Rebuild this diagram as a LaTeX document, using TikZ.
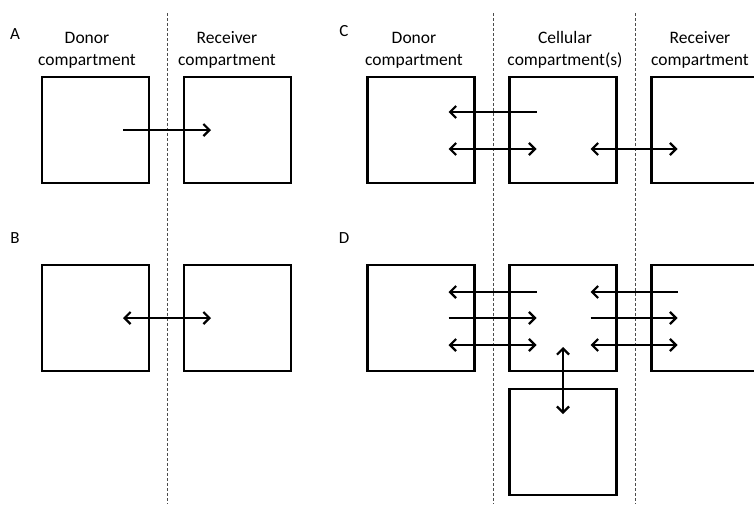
\documentclass[tikz,border=0pt]{standalone}
\usepackage{fontspec}
\setmainfont{Carlito}
\usetikzlibrary{arrows.meta, positioning}

\tikzset{
  box/.style={draw, line width=2.3pt, minimum width=107pt, minimum height=106pt, inner sep=0pt, outer sep=0pt},
  lbl/.style={align=center, font=\fontsize{17.5}{22}\selectfont, inner sep=0pt},
  tag/.style={font=\fontsize{17}{20}\selectfont, inner sep=0pt},
  flow/.style={line width=2.2pt, ->},
  both/.style={line width=2.2pt, <->},
  divider/.style={gray!60!black, line width=0.8pt, dash pattern=on 3pt off 2pt},
}

\begin{document}
\begin{tikzpicture}[x=1pt, y=-1pt, node distance=35pt, >={Straight Barb[length=6pt,width=12pt]}]
  \clip (0,0) rectangle (754,504);
  % dividers
  \draw[divider] (167,13) -- (167,504);
  \draw[divider] (493,13) -- (493,504);
  \draw[divider] (635,13) -- (635,504);

  % panel letters
  \node[tag] (tagA) at (15,34) {A};
  \node[tag] (tagB) at (15,238) {B};
  \node[tag] (tagC) at (344,31) {C};
  \node[tag] (tagD) at (344,238) {D};

  % headings
  \node[lbl] (hdonA) at (87,50) {Donor\\compartment};
  \node[lbl] (hrecA) at (227,50) {Receiver\\compartment};
  \node[lbl] (hdonC) at (414,50) {Donor\\compartment};
  \node[lbl] (hcelC) at (565,50) {Cellular\\compartment(s)};
  \node[lbl] (hrecC) at (700,50) {Receiver\\compartment};

  % A
  \node[box] (donA) at (95.5,130) {};
  \node[box, right=of donA] (recA) {};
  \draw[flow] ([xshift=-26pt]donA.east) -- ([xshift=27pt]recA.west);

  % B
  \node[box] (donB) at (95.5,318) {};
  \node[box, right=of donB] (recB) {};
  \draw[both] ([xshift=-26pt]donB.east) -- ([xshift=27pt]recB.west);

  % C
  \node[box] (donC) at (421,130) {};
  \node[box, right=of donC] (celC) {};
  \node[box, right=of celC] (recC) {};
  \draw[flow] ([xshift=27pt, yshift=18pt]celC.west) -- ([xshift=-26pt, yshift=18pt]donC.east);
  \draw[both] ([xshift=-26pt, yshift=-19pt]donC.east) -- ([xshift=27pt, yshift=-19pt]celC.west);
  \draw[both] ([xshift=-26pt, yshift=-19pt]celC.east) -- ([xshift=26pt, yshift=-19pt]recC.west);

  % D
  \node[box] (donD) at (421,318) {};
  \node[box, right=of donD] (celD) {};
  \node[box, right=of celD] (recD) {};
  \node[box, below=18pt of celD] (subD) {};
  \draw[flow] ([xshift=27pt, yshift=26pt]celD.west) -- ([xshift=-26pt, yshift=26pt]donD.east);
  \draw[flow] ([xshift=-26pt]donD.east) -- ([xshift=27pt]celD.west);
  \draw[both] ([xshift=-26pt, yshift=-27pt]donD.east) -- ([xshift=27pt, yshift=-27pt]celD.west);
  \draw[flow] ([xshift=26pt, yshift=26pt]recD.west) -- ([xshift=-26pt, yshift=26pt]celD.east);
  \draw[flow] ([xshift=-26pt]celD.east) -- ([xshift=26pt]recD.west);
  \draw[both] ([xshift=-26pt, yshift=-27pt]celD.east) -- ([xshift=26pt, yshift=-27pt]recD.west);
  \draw[both] ([yshift=-29pt]celD.center) -- ([yshift=-25pt]subD.north);
\end{tikzpicture}
\end{document}
